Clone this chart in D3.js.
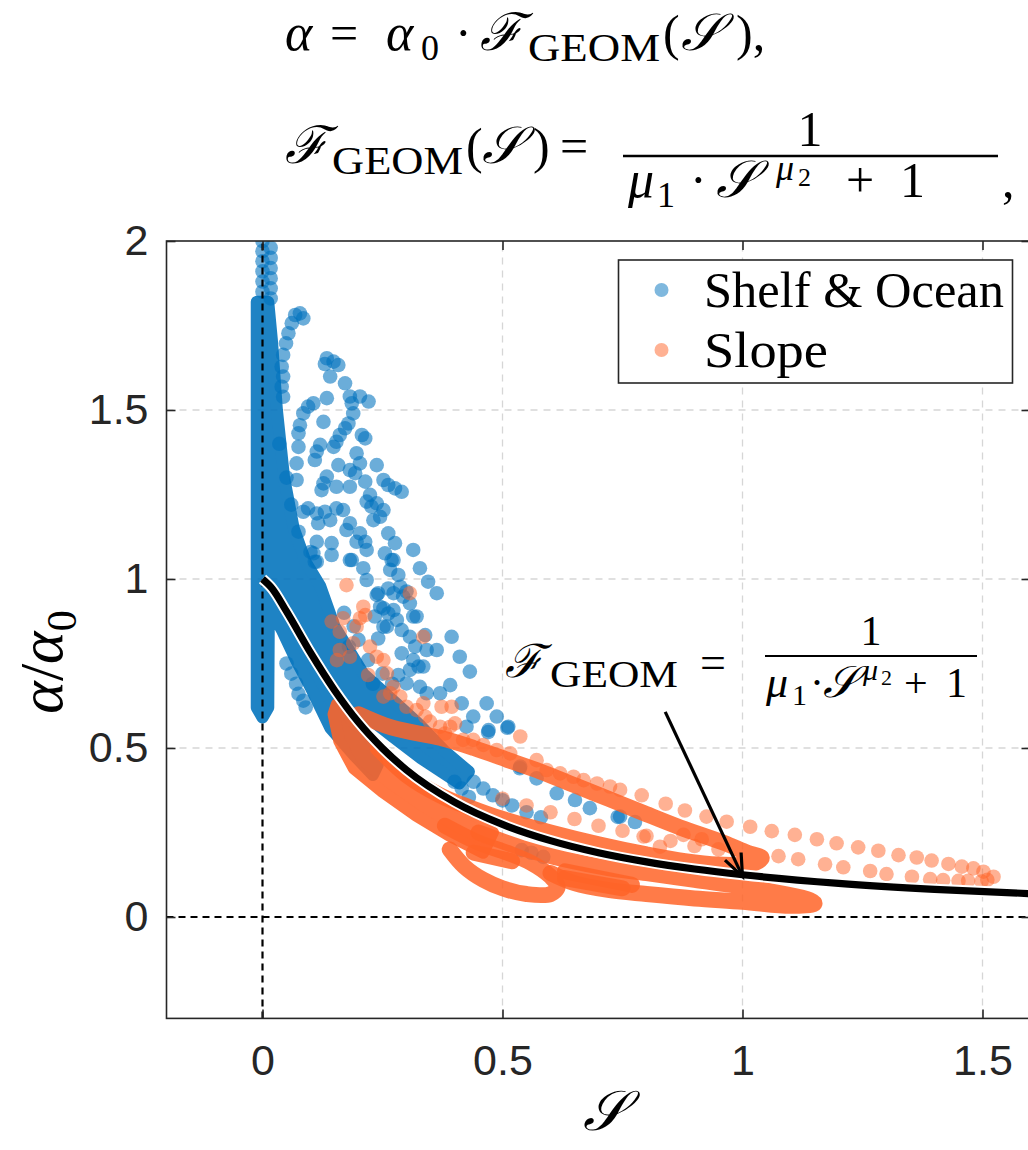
<!DOCTYPE html>
<html>
<head>
<meta charset="utf-8">
<script src="https://cdn.jsdelivr.net/npm/d3@7"></script>
<style>
  body { margin: 0; background: #fff; }
  svg { display: block; }
</style>
</head>
<body>
<svg id="chart"></svg>
<script>
// ---- data (S, alpha/alpha0) ----
const xTicks = [0, 0.5, 1, 1.5];
const yTicks = [0, 0.5, 1, 1.5, 2];
const legendLabels = ["Shelf & Ocean", "Slope"];

// fitted curve F_GEOM
const curveS = [0, 0.02, 0.05, 0.1, 0.15, 0.2, 0.25, 0.3, 0.4, 0.5, 0.6, 0.7, 0.8, 0.9, 1.0, 1.2, 1.4, 1.6];
const curveA = [1.0, 0.972, 0.904, 0.782, 0.671, 0.576, 0.499, 0.435, 0.34, 0.274, 0.226, 0.19, 0.163, 0.142, 0.125, 0.0997, 0.0819, 0.069];

// outline of the dense (overplotted) blue region
const blueDense = [[-0.012, 1.82], [0.012, 1.82], [0.02, 1.7], [0.03, 1.5], [0.045, 1.3], [0.065, 1.15], [0.09, 1.05], [0.12, 0.98],
  [0.15, 0.86], [0.21, 0.72], [0.28, 0.63], [0.33, 0.565], [0.38, 0.49], [0.43, 0.43], [0.41, 0.395], [0.33, 0.47], [0.27, 0.535],
  [0.22, 0.59], [0.21, 0.565], [0.24, 0.45], [0.23, 0.42], [0.19, 0.48], [0.141, 0.56], [0.1, 0.68], [0.07, 0.76],
  [0.04, 0.85], [0.02, 0.9], [0.013, 0.85], [0.012, 0.62], [0, 0.59], [-0.012, 0.62]];

// single blue points
const blueDots = [
  [0, 2.0], [0, 1.97], [0, 1.94], [0, 1.91], [0, 1.88], [0, 1.85], [0.017, 1.98], [0.017, 1.95], [0.017, 1.92], [0.017, 1.89], [0.017, 1.86], [0.017, 1.83],
  [0.078, 1.786], [0.085, 1.771], [0.068, 1.781], [0.061, 1.757], [0.054, 1.727], [0.049, 1.697], [0.043, 1.663], [0.04, 1.628], [0.043, 1.599], [0.04, 1.569], [0.043, 1.539],
  [0.134, 1.653], [0.148, 1.643], [0.158, 1.633], [0.130, 1.636], [0.141, 1.599], [0.172, 1.579], [0.182, 1.540], [0.203, 1.540], [0.221, 1.525], [0.186, 1.520],
  [0.189, 1.490], [0.134, 1.535], [0.095, 1.510], [0.106, 1.520], [0.085, 1.490], [0.078, 1.455], [0.075, 1.431], [0.127, 1.465], [0.179, 1.460], [0.172, 1.446],
  [0.161, 1.426], [0.154, 1.406], [0.148, 1.391], [0.207, 1.426], [0.214, 1.416], [0.120, 1.397], [0.113, 1.377], [0.109, 1.352], [0.075, 1.391], [0.071, 1.342],
  [0.196, 1.372], [0.203, 1.342], [0.193, 1.313], [0.182, 1.322], [0.158, 1.337], [0.238, 1.337], [0.134, 1.303], [0.127, 1.283], [0.123, 1.263], [0.071, 1.293],
  [0.154, 1.273], [0.182, 1.273], [0.214, 1.288], [0.224, 1.249], [0.252, 1.293], [0.262, 1.278], [0.276, 1.268], [0.290, 1.258], [0.217, 1.229], [0.227, 1.214],
  [0.238, 1.224], [0.252, 1.204], [0.231, 1.174], [0.245, 1.184], [0.095, 1.209], [0.085, 1.199], [0.113, 1.194], [0.130, 1.199], [0.154, 1.209], [0.168, 1.204],
  [0.116, 1.165], [0.141, 1.174], [0.182, 1.165], [0.175, 1.145], [0.203, 1.135], [0.214, 1.110], [0.196, 1.110], [0.217, 1.086], [0.186, 1.056], [0.144, 1.071],
  [0.144, 1.106], [0.113, 1.110], [0.106, 1.076], [0.113, 1.051], [0.262, 1.135], [0.276, 1.106], [0.255, 1.076], [0.273, 1.056], [0.314, 1.086], [0.328, 1.032],
  [0.266, 1.027], [0.210, 1.032],
  [0.182, 1.056], [0.217, 0.997], [0.269, 1.056], [0.283, 1.012], [0.287, 0.977], [0.273, 0.958], [0.300, 0.963], [0.307, 0.928], [0.345, 0.992], [0.363, 0.958],
  [0.238, 0.953], [0.245, 0.918], [0.262, 0.898], [0.252, 0.859], [0.280, 0.879], [0.290, 0.849], [0.307, 0.829], [0.321, 0.889], [0.318, 0.800], [0.339, 0.834],
  [0.325, 0.741], [0.342, 0.790], [0.363, 0.790], [0.394, 0.829], [0.411, 0.770], [0.432, 0.726], [0.391, 0.686], [0.370, 0.662], [0.342, 0.662], [0.307, 0.731],
  [0.283, 0.716], [0.300, 0.691], [0.328, 0.681], [0.415, 0.632], [0.467, 0.632], [0.439, 0.593], [0.488, 0.593], [0.471, 0.553], [0.512, 0.563], [0.425, 0.563],
  [0.537, 0.445], [0.571, 0.410], [0.613, 0.366], [0.651, 0.346], [0.682, 0.322], [0.745, 0.297],
  [0.109, 1.051], [0.241, 0.958], [0.262, 0.972], [0.293, 0.948], [0.252, 0.913], [0.273, 0.908], [0.314, 0.889], [0.234, 0.889], [0.259, 0.859], [0.241, 0.824],
  [0.29, 0.78], [0.314, 0.76], [0.335, 0.741],
  [0.17, 0.9], [0.19, 0.86], [0.2, 0.82], [0.18, 0.8], [0.22, 0.76], [0.25, 0.72], [0.27, 0.69], [0.23, 0.69],
  [0.05, 0.75], [0.06, 0.72], [0.07, 0.69], [0.075, 0.66], [0.085, 0.64], [0.09, 0.62],
  [0.035, 1.4], [0.05, 1.3], [0.06, 1.22], [0.075, 1.14], [0.1, 1.08],
  [0.44, 0.4], [0.46, 0.38], [0.48, 0.36], [0.5, 0.345], [0.52, 0.33], [0.55, 0.31], [0.58, 0.295],
  [0.4, 0.4], [0.415, 0.38], [0.43, 0.355], [0.54, 0.198], [0.56, 0.19], [0.585, 0.178], [0.47, 0.547], [0.51, 0.56], [0.536, 0.44], [0.776, 0.281], [0.74, 0.296]
];

// outline of the dense orange region just under the curve
const orangeDense = [[0.155, 0.63], [0.2, 0.56], [0.25, 0.49], [0.3, 0.425], [0.35, 0.375], [0.4, 0.33], [0.45, 0.295], [0.48, 0.25],
  [0.46, 0.19], [0.39, 0.24], [0.32, 0.3], [0.25, 0.37], [0.19, 0.44], [0.16, 0.52], [0.148, 0.6]];

// dense orange trajectories (loops)
const orangeLoops = [
  [[0.38, 0.27], [0.45, 0.22], [0.51, 0.19], [0.56, 0.16], [0.6, 0.12], [0.615, 0.09], [0.6, 0.068], [0.55, 0.068], [0.5, 0.085], [0.46, 0.11], [0.42, 0.15], [0.39, 0.2]],
  [[0.44, 0.19], [0.52, 0.165]],
  [[0.45, 0.25], [0.55, 0.2], [0.63, 0.17], [0.72, 0.145], [0.8, 0.13], [0.9, 0.11], [1.0, 0.09], [1.08, 0.07], [1.14, 0.05], [1.15, 0.04], [1.1, 0.033],
   [1.0, 0.045], [0.9, 0.055], [0.8, 0.068], [0.72, 0.08], [0.65, 0.1], [0.6, 0.13]],
  [[0.63, 0.135], [0.77, 0.095]],
  [[0.63, 0.115], [0.75, 0.085]],
  [[0.2, 0.6], [0.27, 0.56], [0.37, 0.53], [0.44, 0.5], [0.51, 0.465], [0.58, 0.43], [0.65, 0.39], [0.72, 0.35], [0.79, 0.31], [0.87, 0.265], [0.96, 0.22],
   [1.01, 0.19], [1.04, 0.175], [1.02, 0.157], [0.95, 0.155], [0.88, 0.165], [0.8, 0.185], [0.7, 0.215], [0.6, 0.25], [0.5, 0.29], [0.43, 0.325], [0.37, 0.36],
   [0.3, 0.42], [0.24, 0.5]]
];

// single orange points
const orangeDots = [
  [0.175, 0.982], [0.21, 0.918], [0.307, 0.958], [0.214, 0.893], [0.196, 0.859], [0.168, 0.884], [0.161, 0.844], [0.224, 0.8], [0.238, 0.77], [0.252, 0.76],
  [0.259, 0.721], [0.273, 0.681], [0.252, 0.652], [0.287, 0.652], [0.3, 0.622], [0.321, 0.612], [0.339, 0.593], [0.349, 0.578], [0.37, 0.563], [0.38, 0.543],
  [0.394, 0.622], [0.401, 0.573], [0.418, 0.524], [0.439, 0.524], [0.46, 0.509], [0.488, 0.494], [0.516, 0.484], [0.537, 0.534], [0.571, 0.464], [0.592, 0.435],
  [0.62, 0.425], [0.648, 0.415], [0.669, 0.405], [0.697, 0.395], [0.724, 0.386], [0.745, 0.376],
  [0.144, 0.874], [0.203, 0.884], [0.189, 0.81], [0.161, 0.79], [0.155, 0.76], [0.182, 0.77], [0.335, 0.829], [0.22, 0.716], [0.266, 0.662], [0.335, 0.632],
  [0.373, 0.622], [0.391, 0.563],
  [0.5, 0.35], [0.55, 0.33], [0.6, 0.31], [0.65, 0.29], [0.7, 0.27], [0.75, 0.255], [0.8, 0.24], [0.85, 0.225], [0.9, 0.21], [0.95, 0.2],
  [0.79, 0.36], [0.84, 0.335], [0.88, 0.315], [0.925, 0.297], [0.967, 0.282], [1.016, 0.267], [1.061, 0.254], [1.109, 0.243], [1.155, 0.23], [1.196, 0.218],
  [1.241, 0.206], [1.283, 0.196], [1.325, 0.183], [1.363, 0.176], [1.394, 0.167], [1.429, 0.157], [1.457, 0.149], [1.481, 0.144], [1.502, 0.134], [1.523, 0.119],
  [1.51, 0.11], [1.498, 0.105], [1.47, 0.107], [1.45, 0.107], [1.418, 0.109], [1.391, 0.112], [1.353, 0.119], [1.3, 0.127], [1.266, 0.136], [1.21, 0.147],
  [1.172, 0.156], [1.116, 0.171], [1.075, 0.18], [0.794, 0.238], [0.828, 0.208], [0.877, 0.243], [0.915, 0.23]
];

// annotation arrow: from label to the curve at S = 1
const arrowFrom = [0.839, 0.607];
const arrowTo = [1.0, 0.12];

// ---- layout ----
const width = 1028, height = 1150;
const blue = "#0072BD", orange = "#FF6428";

const svg = d3.select("#chart").attr("width", width).attr("height", height);

const x = d3.scaleLinear().domain([-0.2, 1.6]).range([166.5, 1030.5]);
const y = d3.scaleLinear().domain([-0.3, 2]).range([1018.4, 241]);

svg.append("clipPath").attr("id", "plotClip")
  .append("rect")
  .attr("x", x(-0.2)).attr("y", y(2))
  .attr("width", x(1.6) - x(-0.2)).attr("height", y(-0.3) - y(2));

// grid
const grid = svg.append("g");
grid.selectAll(".gx").data(xTicks.filter(d => d !== 0)).join("line")
  .attr("x1", d => x(d)).attr("x2", d => x(d))
  .attr("y1", y(-0.3)).attr("y2", y(2))
  .attr("stroke", "#d6d6d6").attr("stroke-width", 1.3).attr("stroke-dasharray", "7,6");
grid.selectAll(".gy").data(yTicks.filter(d => d !== 0 && d !== 2)).join("line")
  .attr("y1", d => y(d)).attr("y2", d => y(d))
  .attr("x1", x(-0.2)).attr("x2", x(1.6))
  .attr("stroke", "#d6d6d6").attr("stroke-width", 1.3).attr("stroke-dasharray", "7,6");

const plot = svg.append("g").attr("clip-path", "url(#plotClip)");
const closed = d3.line().x(d => x(d[0])).y(d => y(d[1])).curve(d3.curveLinearClosed);
const open = d3.line().x(d => x(d[0])).y(d => y(d[1])).curve(d3.curveCatmullRom);

// blue series
plot.append("path").datum(blueDense).attr("d", closed)
  .attr("fill", blue).attr("stroke", blue).attr("stroke-width", 12)
  .attr("stroke-linejoin", "round").attr("opacity", 0.88);
plot.selectAll(".bdot").data(blueDots).join("circle")
  .attr("cx", d => x(d[0])).attr("cy", d => y(d[1])).attr("r", 7.3)
  .attr("fill", blue).attr("fill-opacity", 0.58);

// orange series
plot.append("path").datum(orangeDense).attr("d", closed)
  .attr("fill", orange).attr("stroke", orange).attr("stroke-width", 12)
  .attr("stroke-linejoin", "round").attr("opacity", 0.88);
plot.selectAll(".oloop").data(orangeLoops).join("path")
  .attr("d", open).attr("fill", "none")
  .attr("stroke", orange).attr("stroke-opacity", 0.85)
  .attr("stroke-width", 16).attr("stroke-linecap", "round").attr("stroke-linejoin", "round");
plot.selectAll(".odot").data(orangeDots).join("circle")
  .attr("cx", d => x(d[0])).attr("cy", d => y(d[1])).attr("r", 7.3)
  .attr("fill", orange).attr("fill-opacity", 0.5);

// zero lines
plot.append("line")
  .attr("x1", x(0)).attr("x2", x(0)).attr("y1", y(-0.3)).attr("y2", y(2))
  .attr("stroke", "#000").attr("stroke-width", 2.2).attr("stroke-dasharray", "7,5");
plot.append("line")
  .attr("x1", x(-0.2)).attr("x2", x(1.6)).attr("y1", y(0)).attr("y2", y(0))
  .attr("stroke", "#000").attr("stroke-width", 2.2).attr("stroke-dasharray", "7,5");

// fitted curve with white halo
const curveData = curveS.map((s, i) => [s, curveA[i]]);
const curveLine = d3.line().x(d => x(d[0])).y(d => y(d[1])).curve(d3.curveMonotoneX);
plot.append("path").datum(curveData).attr("d", curveLine)
  .attr("fill", "none").attr("stroke", "#fff").attr("stroke-width", 11);
plot.append("path").datum(curveData).attr("d", curveLine)
  .attr("fill", "none").attr("stroke", "#000").attr("stroke-width", 7.2);

// axes box + ticks
const axisColor = "#262626";
svg.append("rect")
  .attr("x", x(-0.2)).attr("y", y(2))
  .attr("width", x(1.6) - x(-0.2)).attr("height", y(-0.3) - y(2))
  .attr("fill", "none").attr("stroke", axisColor).attr("stroke-width", 1.6);

const tickFont = "'Liberation Sans Narrow', 'Liberation Sans', Arial, sans-serif";
const xAxis = svg.append("g").attr("transform", `translate(0,${y(-0.3)})`)
  .call(d3.axisBottom(x).tickValues(xTicks).tickSize(-9).tickPadding(26).tickFormat(d3.format("")));
const yAxis = svg.append("g").attr("transform", `translate(${x(-0.2)},0)`)
  .call(d3.axisLeft(y).tickValues(yTicks).tickSize(-9).tickPadding(18).tickFormat(d3.format("")));
svg.append("g").attr("transform", `translate(0,${y(2)})`)
  .call(d3.axisTop(x).tickValues(xTicks).tickSize(-9).tickFormat(""));
svg.append("g").attr("transform", `translate(${x(1.6)},0)`)
  .call(d3.axisRight(y).tickValues(yTicks).tickSize(-9).tickFormat(""));
svg.selectAll(".domain").remove();
svg.selectAll(".tick line").attr("stroke", axisColor).attr("stroke-width", 1.6);
[xAxis, yAxis].forEach(a => a.selectAll("text")
  .attr("font-family", tickFont).attr("font-size", 43).attr("fill", "#262626"));

// ---- math text: each glyph group placed on its own ----
const serif = "'Liberation Serif', 'DejaVu Serif', serif";
function put(g, px, py, str, size, italic, len) {
  const t = g.append("text").attr("x", px).attr("y", py)
    .attr("font-family", serif).attr("font-size", size).attr("fill", "#000").text(str);
  if (italic) t.attr("font-style", "italic");
  if (len) t.attr("textLength", len).attr("lengthAdjust", "spacingAndGlyphs");
  return t;
}

const eq = svg.append("g");
// line 1: alpha = alpha_0 . F_GEOM(S),
put(eq, 285, 50, "α", 52, true);
put(eq, 330, 50, "=", 50);
put(eq, 386, 50, "α", 52, true);
put(eq, 421, 60, "0", 36);
put(eq, 455, 50, "·", 50);
put(eq, 480, 50, "ℱ", 52, true);
put(eq, 528, 61, "GEOM", 40, false, 132);
put(eq, 663, 50, "(", 50);
put(eq, 681, 50, "𝒮", 52, true);
put(eq, 736, 50, "),", 50);
// line 2: F_GEOM(S) = 1 / (mu_1 . S^mu_2 + 1),
put(eq, 285, 163, "ℱ", 52, true);
put(eq, 332, 174, "GEOM", 40, false, 131);
put(eq, 466, 163, "(", 50);
put(eq, 482, 163, "𝒮", 52, true);
put(eq, 533, 163, ")", 50);
put(eq, 560, 163, "=", 50);
eq.append("line").attr("x1", 623).attr("x2", 998).attr("y1", 156).attr("y2", 156)
  .attr("stroke", "#000").attr("stroke-width", 2.3);
put(eq, 810, 146, "1", 50).attr("text-anchor", "middle");
put(eq, 628, 197, "μ", 52, true);
put(eq, 657, 207, "1", 36);
put(eq, 690, 197, "·", 50);
put(eq, 716, 197, "𝒮", 52, true);
put(eq, 776, 180, "μ", 36, true);
put(eq, 798, 186, "2", 26);
put(eq, 846, 197, "+", 50);
put(eq, 900, 197, "1", 50);
put(eq, 1002, 197, ",", 50);

// annotation inside the plot
const ann = svg.append("g");
put(ann, 505, 677, "ℱ", 46, true);
put(ann, 550, 687, "GEOM", 38, false, 128);
put(ann, 700, 678, "=", 46);
ann.append("line").attr("x1", 765).attr("x2", 977).attr("y1", 656).attr("y2", 656)
  .attr("stroke", "#000").attr("stroke-width", 2.2);
put(ann, 871, 645, "1", 42).attr("text-anchor", "middle");
put(ann, 766, 697, "μ", 44, true);
put(ann, 792, 705, "1", 30);
put(ann, 810, 697, "·", 42);
put(ann, 823, 697, "𝒮", 44, true);
put(ann, 863, 680, "μ", 30, true);
put(ann, 881, 685, "2", 22);
put(ann, 904, 697, "+", 42);
put(ann, 946, 697, "1", 42);

// arrow
const ax0 = x(arrowFrom[0]), ay0 = y(arrowFrom[1]), ax1 = x(arrowTo[0]), ay1 = y(arrowTo[1]);
const ang = Math.atan2(ay1 - ay0, ax1 - ax0);
svg.append("line").attr("x1", ax0).attr("y1", ay0).attr("x2", ax1).attr("y2", ay1)
  .attr("stroke", "#000").attr("stroke-width", 3.2);
const head = 24, spread = 0.38;
svg.append("path")
  .attr("d", `M${ax1 - head * Math.cos(ang - spread)},${ay1 - head * Math.sin(ang - spread)} L${ax1},${ay1} L${ax1 - head * Math.cos(ang + spread)},${ay1 - head * Math.sin(ang + spread)}`)
  .attr("fill", "none").attr("stroke", "#000").attr("stroke-width", 3.2);

// axis labels
const yl = svg.append("text").attr("transform", "translate(62,662) rotate(-90)")
  .attr("text-anchor", "middle").attr("font-family", serif).attr("font-size", 62);
yl.append("tspan").attr("font-style", "italic").text("α");
yl.append("tspan").text("/");
yl.append("tspan").attr("font-style", "italic").text("α");
yl.append("tspan").attr("font-size", 42).attr("dy", 14).text("0");
put(svg, 604, 1130, "𝒮", 56, true).attr("text-anchor", "middle");

// legend
const lg = svg.append("g");
lg.append("rect").attr("x", 618.5).attr("y", 260).attr("width", 394).attr("height", 123)
  .attr("fill", "#fff").attr("stroke", axisColor).attr("stroke-width", 1.6);
const legendColors = [blue, orange];
legendLabels.forEach((lab, i) => {
  const cy = 290 + i * 60;
  lg.append("circle").attr("cx", 661.5).attr("cy", cy).attr("r", 7)
    .attr("fill", legendColors[i]).attr("fill-opacity", 0.5);
  lg.append("text").attr("x", 704).attr("y", cy + 17)
    .attr("font-family", serif).attr("font-size", 50).attr("fill", "#000")
    .attr("textLength", i === 0 ? 300 : 124).attr("lengthAdjust", "spacingAndGlyphs").text(lab);
});
</script>
</body>
</html>
